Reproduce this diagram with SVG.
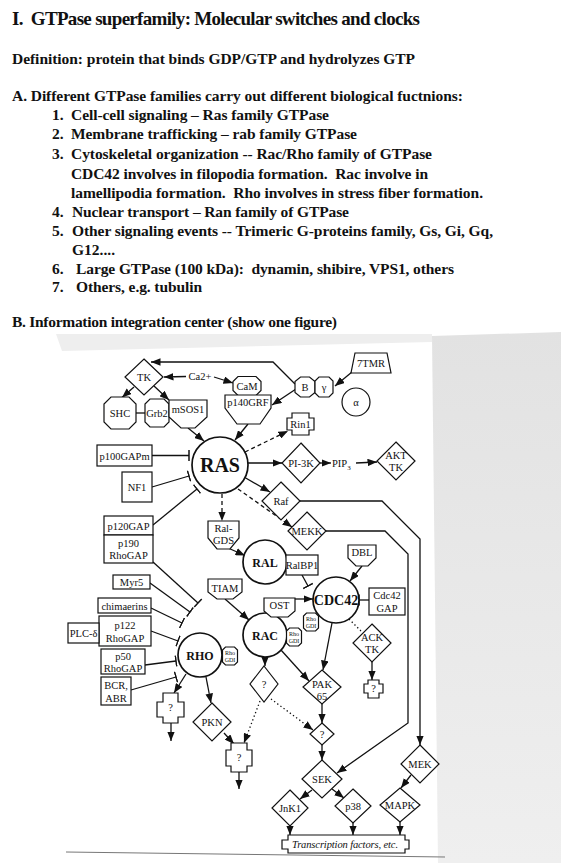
<svg xmlns="http://www.w3.org/2000/svg" width="561" height="863" viewBox="0 0 561 863">
  <defs>
    <style>
      .hd { font-family: "Liberation Serif", "Times New Roman", serif; font-weight: bold; fill: #111; white-space: pre; }
      .n { fill: #fff; stroke: #111; stroke-width: 1.2; }
      .cir { fill: #fff; stroke: #111; stroke-width: 1.7; }
      .c { fill: none; stroke: #111; stroke-width: 1.3; }
      .dash { stroke-dasharray: 4 3; }
      .dot { stroke-dasharray: 1.3 2.6; }
      .t { font-family: "Liberation Serif", "Times New Roman", serif; font-size: 10.5px; text-anchor: middle; fill: #111; }
      .tb { font-family: "Liberation Serif", "Times New Roman", serif; font-weight: bold; text-anchor: middle; fill: #111; }
      .gdi { font-family: "Liberation Serif", "Times New Roman", serif; font-size: 6px; text-anchor: middle; fill: #111; }
    </style>
    <marker id="ah" viewBox="0 0 10 8" refX="10" refY="4" markerWidth="9.5" markerHeight="7.6" markerUnits="userSpaceOnUse" orient="auto">
      <path d="M0,0 L10,4 L0,8 z" fill="#111"/>
    </marker>
    <marker id="bar" viewBox="-1 -6 2 12" refX="0" refY="0" markerWidth="2" markerHeight="12" markerUnits="userSpaceOnUse" orient="auto">
      <path d="M0,-5.5 V5.5" stroke="#111" stroke-width="1.5"/>
    </marker>
    <linearGradient id="shade" x1="0" y1="0" x2="0" y2="1">
      <stop offset="0" stop-color="#e2e2e2"/>
      <stop offset="1" stop-color="#efefef"/>
    </linearGradient>
  </defs>

  <!-- page -->
  <rect x="0" y="0" width="561" height="863" fill="#fff"/>
  <polygon points="56,334 432,334 432,342 62,351" fill="#eeeeee"/>
  <polygon points="432,336 561,332 561,863 438,863" fill="url(#shade)"/>
  <line x1="66" y1="852" x2="445" y2="857" stroke="#777" stroke-width="1"/>

  <!-- heading text -->
  <g id="notes">
    <text class="hd" xml:space="preserve" x="12" y="24.5" font-size="19" textLength="408" lengthAdjust="spacing">I.  GTPase superfamily: Molecular switches and clocks</text>
    <text class="hd" x="12" y="63.5" font-size="15.5" textLength="403" lengthAdjust="spacing">Definition: protein that binds GDP/GTP and hydrolyzes GTP</text>
    <text class="hd" x="12" y="100.5" font-size="15.5" textLength="451" lengthAdjust="spacing">A. Different GTPase families carry out different biological fuctnions:</text>
    <text class="hd" x="52" y="120" font-size="15.5">1.</text>
    <text class="hd" x="71" y="120" font-size="15.5" textLength="258" lengthAdjust="spacing">Cell-cell signaling – Ras family GTPase</text>
    <text class="hd" x="52" y="139.3" font-size="15.5">2.</text>
    <text class="hd" x="71" y="139.3" font-size="15.5" textLength="286" lengthAdjust="spacing">Membrane trafficking – rab family GTPase</text>
    <text class="hd" x="52" y="158.5" font-size="15.5">3.</text>
    <text class="hd" x="71" y="158.5" font-size="15.5" textLength="361" lengthAdjust="spacing">Cytoskeletal organization -- Rac/Rho family of GTPase</text>
    <text class="hd" xml:space="preserve" x="71" y="178.5" font-size="15.5" textLength="357" lengthAdjust="spacing">CDC42 involves in filopodia formation.  Rac involve in</text>
    <text class="hd" xml:space="preserve" x="71" y="197.5" font-size="15.5" textLength="412" lengthAdjust="spacing">lamellipodia formation.  Rho involves in stress fiber formation.</text>
    <text class="hd" x="52" y="216.8" font-size="15.5">4.</text>
    <text class="hd" x="72" y="216.8" font-size="15.5" textLength="277" lengthAdjust="spacing">Nuclear transport – Ran family of GTPase</text>
    <text class="hd" x="52" y="236" font-size="15.5">5.</text>
    <text class="hd" x="72" y="236" font-size="15.5" textLength="421" lengthAdjust="spacing">Other signaling events -- Trimeric G-proteins family, Gs, Gi, Gq,</text>
    <text class="hd" x="72" y="255" font-size="15.5">G12....</text>
    <text class="hd" x="52" y="273.5" font-size="15.5">6.</text>
    <text class="hd" xml:space="preserve" x="76" y="273.5" font-size="15.5" textLength="378" lengthAdjust="spacing">Large GTPase (100 kDa):  dynamin, shibire, VPS1, others</text>
    <text class="hd" x="52" y="292" font-size="15.5">7.</text>
    <text class="hd" x="76" y="292" font-size="15.5" textLength="126" lengthAdjust="spacing">Others, e.g. tubulin</text>
    <text class="hd" x="12" y="326.5" font-size="15.5" textLength="325" lengthAdjust="spacing">B. Information integration center (show one figure)</text>
  </g>

  <!-- connectors -->
  <g id="connectors">
    <path class="c" d="M186,376.5 L164,377" marker-end="url(#ah)"/>
    <path class="c" d="M214,377 L233,383" marker-end="url(#ah)"/>
    <path class="c" d="M295,384 L273,362 L151,362" marker-end="url(#ah)"/>
    <path class="c" d="M296,389 L272,405" marker-end="url(#ah)"/>
    <path class="c" d="M352,372 L335,386" marker-end="url(#ah)"/>
    <path class="c" d="M134,387 L122,397.5" marker-end="url(#ah)"/>
    <path class="c" d="M154,386 L169,400" marker-end="url(#ah)"/>
    <path class="c" d="M136,413 L145,413"/>
    <path class="c" d="M188,428 L204,441" marker-end="url(#ah)"/>
    <path class="c" d="M248,424 L235,440" marker-end="url(#ah)"/>
    <path class="c dash" d="M245,452 L288,431" marker-end="url(#ah)"/>
    <path class="c" d="M248,463 L282,463" marker-end="url(#ah)"/>
    <path class="c" d="M320,463 L331,463" marker-end="url(#ah)"/>
    <path class="c" d="M356,463 L377,462" marker-end="url(#ah)"/>
    <path class="c" d="M244,477 L270,492" marker-end="url(#ah)"/>
    <path class="c dash" d="M238,489 L292,527" marker-end="url(#ah)"/>
    <path class="c dash" d="M222,494 L222,521" marker-end="url(#ah)"/>
    <path class="c" d="M228,548 L245,555.5" marker-end="url(#ah)"/>
    <path class="c" d="M300,501 L382,501 L420,539 L420,745" marker-end="url(#ah)"/>
    <path class="c" d="M326,531 L385,531 L408,554 L408,723 L337,773" marker-end="url(#ah)"/>

    <path class="c" d="M152,455.5 L189,455.5" marker-end="url(#bar)"/>
    <path class="c" d="M152,487 L189,476" marker-end="url(#bar)"/>
    <path class="c" d="M153,525 L197,489" marker-end="url(#bar)"/>

    <path class="c" d="M153,562 L198,603" marker-end="url(#bar)"/>
    <path class="c" d="M150,583 L190,612" marker-end="url(#bar)"/>
    <path class="c" d="M151,608 L182,623" marker-end="url(#bar)"/>
    <path class="c" d="M151,631 L178,641" marker-end="url(#bar)"/>
    <path class="c" d="M145,665 L176,661" marker-end="url(#bar)"/>
    <path class="c" d="M131,690 L176,677" marker-end="url(#bar)"/>

    <path class="c" d="M225,599 L249,620" marker-end="url(#ah)"/>
    <path class="c" d="M295,599 L313,599" marker-end="url(#ah)"/>
    <path class="c" d="M302,575 L308,586" marker-end="url(#bar)"/>
    <path class="c" d="M362,566 L350,581" marker-end="url(#ah)"/>
    <path class="c" d="M369,600 L359,600" marker-end="url(#bar)"/>
    <path class="c" d="M332,623 L323,670" marker-end="url(#ah)"/>
    <path class="c" d="M281,650 L309,681" marker-end="url(#ah)"/>
    <path class="c dot" d="M349,619 L362,632"/>
    <path class="c" d="M372,662 L372,680" marker-end="url(#ah)"/>
    <path class="c" d="M265,657 L265,666" marker-end="url(#ah)"/>
    <path class="c" d="M186,674 L174,693" marker-end="url(#ah)"/>
    <path class="c" d="M206,677 L211,703" marker-end="url(#ah)"/>
    <path class="c" d="M171,723 L171,741" marker-end="url(#ah)"/>
    <path class="c" d="M224,733 L234,744" marker-end="url(#ah)"/>
    <path class="c dot" d="M260,701 L244,743" marker-end="url(#ah)"/>
    <path class="c dot" d="M271,699 L313,730" marker-end="url(#ah)"/>
    <path class="c" d="M239,772 L239,789" marker-end="url(#ah)"/>
    <path class="c" d="M322,704 L322,723" marker-end="url(#ah)"/>
    <path class="c" d="M322,745 L322,760" marker-end="url(#ah)"/>
    <path class="c" d="M312,790 L300,799" marker-end="url(#ah)"/>
    <path class="c" d="M332,789 L344,798" marker-end="url(#ah)"/>
    <path class="c" d="M411,775 L401,788" marker-end="url(#ah)"/>
    <path class="c" d="M290,826 L290,835" marker-end="url(#ah)"/>
    <path class="c" d="M353,823 L353,835" marker-end="url(#ah)"/>
    <path class="c" d="M400,822 L400,835" marker-end="url(#ah)"/>
  </g>

  <text class="t" x="200" y="380" font-size="10">Ca2+</text>

  <!-- receptors and adaptors -->
  <g id="TK"><polygon class="n" points="144,359 163,377 144,395 125,377"/><text class="t" x="144" y="381">TK</text></g>
  <g id="SHC"><polygon class="n" points="111,397 129,397 136,404 136,422 129,429 111,429 104,422 104,404"/><text class="t" x="120" y="417">SHC</text></g>
  <g id="Grb2"><polygon class="n" points="150,399 164,399 169,404 169,422 164,427 150,427 145,422 145,404"/><text class="t" x="157" y="417" font-size="10">Grb2</text></g>
  <g id="mSOS1"><polygon class="n" points="169,400 207,400 207,417 195,428 181,428 169,417"/><text class="t" x="188" y="413">mSOS1</text></g>
  <g id="CaM"><polygon class="n" points="238,376.5 256,376.5 261,381.5 261,390.5 256,395.5 238,395.5 233,390.5 233,381.5"/><text class="t" x="247" y="390">CaM</text></g>
  <g id="p140GRF"><polygon class="n" points="225,395 271,395 271,408 260,424 237,424 225,408"/><text class="t" x="248" y="406">p140GRF</text></g>
  <g id="Gbeta"><polygon class="n" points="300.5,377 309.5,377 315,381.5 315,392.5 309.5,397 300.5,397 295,392.5 295,381.5"/><text class="t" x="305" y="391">B</text></g>
  <g id="Ggamma"><polygon class="n" points="319,377 329,377 333,381 333,393 329,397 319,397 315,393 315,381"/><text class="t" x="324" y="391" font-size="11">γ</text></g>
  <g id="TMR7"><polygon class="n" points="355,353 387,353 391,373 351,373"/><text class="t" x="371" y="367">7TMR</text></g>
  <g id="Galpha"><circle class="n" cx="356" cy="402" r="14"/><text class="t" x="356" y="405.5" font-size="11">α</text></g>
  <g id="Rin1"><polygon class="n" points="292,413 309,413 309,418 314,418 314,430 309,430 309,435 292,435 292,430 287,430 287,418 292,418"/><text class="t" x="300.5" y="428" font-size="10">Rin1</text></g>

  <!-- RAS and its regulators -->
  <g id="RAS"><circle class="cir" cx="220" cy="465" r="28" stroke-width="2"/><text class="tb" x="220" y="472" font-size="20">RAS</text></g>
  <g id="p100GAPm"><rect class="n" x="97" y="445" width="55" height="21"/><text class="t" x="124.5" y="459.5">p100GAPm</text></g>
  <g id="NF1"><rect class="n" x="122" y="472" width="30" height="30"/><text class="t" x="137" y="491">NF1</text></g>
  <g id="p120GAP"><rect class="n" x="104" y="516" width="49" height="19"/><text class="t" x="128.5" y="529.5">p120GAP</text></g>
  <g id="p190RhoGAP"><rect class="n" x="104" y="535" width="49" height="28"/><text class="t" x="128.5" y="546.5">p190</text><text class="t" x="128.5" y="558.5">RhoGAP</text></g>
  <g id="PI3K"><polygon class="n" points="301,443 320,463 301,483 282,463"/><text class="t" x="301" y="467">PI-3K</text></g>
  <g id="PIP3"><text class="t" x="332" y="467" style="text-anchor:start">PIP<tspan font-size="7" dy="2.5">3</tspan></text></g>
  <g id="AKT"><polygon class="n" points="396,442 415,461 396,480 377,461"/><text class="t" x="396" y="459">AKT</text><text class="t" x="396" y="471">TK</text></g>
  <g id="Raf"><polygon class="n" points="281,482 300,501 281,520 262,501"/><text class="t" x="281" y="505">Raf</text></g>
  <g id="MEKK"><polygon class="n" points="307,512 326,531 307,550 288,531"/><text class="t" x="307" y="535" font-size="10">MEKK</text></g>

  <!-- RAL, RAC, CDC42, RHO -->
  <g id="RalGDS"><polygon class="n" points="208,521 239,521 239,538 230,549 217,549 208,538"/><text class="t" x="223.5" y="532">Ral-</text><text class="t" x="223.5" y="544">GDS</text></g>
  <g id="RAL"><circle class="cir" cx="265" cy="562" r="22"/><text class="tb" x="265" y="566.5" font-size="12">RAL</text></g>
  <g id="RalBP1"><rect class="n" x="286" y="555" width="32" height="20"/><text class="t" x="302" y="569" font-size="10">RalBP1</text></g>
  <g id="DBL"><polygon class="n" points="348,545 376,545 376,558 368,566 356,566 348,558"/><text class="t" x="362" y="556">DBL</text></g>
  <g id="TIAM"><polygon class="n" points="208,579 242,579 242,592 233,599 217,599 208,592"/><text class="t" x="225" y="592">TIAM</text></g>
  <g id="RAC"><circle class="cir" cx="265" cy="635" r="22"/><text class="tb" x="265" y="639.5" font-size="12">RAC</text></g>
  <g id="OST"><polygon class="n" points="264,598 295,598 295,611 288,617 271,617 264,611"/><text class="t" x="279.5" y="609">OST</text></g>
  <g id="CDC42"><circle class="cir" cx="336" cy="600" r="23"/><text class="tb" x="336" y="605" font-size="14">CDC42</text></g>
  <g id="Cdc42GAP"><rect class="n" x="369" y="588" width="36" height="27"/><text class="t" x="387" y="599">Cdc42</text><text class="t" x="387" y="611.5">GAP</text></g>
  <g id="RhoGDI-RAC"><polygon class="n" points="289.5,628 298.5,628 301.5,631 301.5,643 298.5,646 289.5,646 286.5,643 286.5,631"/><text class="gdi" x="294" y="636">Rho</text><text class="gdi" x="294" y="642.5">GDI</text></g>
  <g id="RhoGDI-CDC42"><polygon class="n" points="306.5,613 315.5,613 318.5,616 318.5,628 315.5,631 306.5,631 303.5,628 303.5,616"/><text class="gdi" x="311" y="621">Rho</text><text class="gdi" x="311" y="627.5">GDI</text></g>
  <g id="Myr5"><rect class="n" x="113" y="575" width="37" height="14"/><text class="t" x="131.5" y="586">Myr5</text></g>
  <g id="chimaerins"><rect class="n" x="98" y="598" width="53" height="15"/><text class="t" x="124.5" y="609.5">chimaerins</text></g>
  <g id="p122RhoGAP"><rect class="n" x="99" y="616" width="52" height="30"/><text class="t" x="125" y="629">p122</text><text class="t" x="125" y="642">RhoGAP</text></g>
  <g id="PLCd"><rect class="n" x="68" y="623" width="31" height="20"/><text class="t" x="83.5" y="637">PLC-δ</text></g>
  <g id="p50RhoGAP"><rect class="n" x="101" y="649" width="44" height="25"/><text class="t" x="123" y="660">p50</text><text class="t" x="123" y="671.5">RhoGAP</text></g>
  <g id="BCRABR"><rect class="n" x="101" y="677" width="30" height="28"/><text class="t" x="116" y="689">BCR,</text><text class="t" x="116" y="702">ABR</text></g>
  <g id="RHO"><circle class="cir" cx="200" cy="655" r="22"/><text class="tb" x="200" y="659.5" font-size="12">RHO</text></g>
  <g id="RhoGDI-RHO"><polygon class="n" points="225.5,647 234.5,647 237.5,650 237.5,662 234.5,665 225.5,665 222.5,662 222.5,650"/><text class="gdi" x="230" y="655">Rho</text><text class="gdi" x="230" y="661.5">GDI</text></g>

  <!-- effectors -->
  <g id="ACKTK"><polygon class="n" points="372,624 391,643 372,662 353,643"/><text class="t" x="372" y="641">ACK</text><text class="t" x="372" y="653">TK</text></g>
  <g id="ACK-target"><polygon class="n" points="368,680 379,680 379,684 383,684 383,693 379,693 379,698 368,698 368,693 364,693 364,684 368,684"/><text class="t" x="373.5" y="692" font-size="8.5">?</text></g>
  <g id="RAC-target"><polygon class="n" points="264,666 278,684 264,702 250,684"/><text class="t" x="264" y="688" font-size="9.5">?</text></g>
  <g id="PAK65"><polygon class="n" points="322,670 341,687 322,704 303,687"/><text class="t" x="322" y="688">PAK</text><text class="t" x="322" y="700">65</text></g>
  <g id="RHO-target"><polygon class="n" points="163,693 178,693 178,702 184,702 184,717 178,717 178,723 163,723 163,717 157,717 157,702 163,702"/><text class="t" x="170.5" y="711" font-size="9">?</text></g>
  <g id="PKN"><polygon class="n" points="212,703 231,722 212,741 193,722"/><text class="t" x="212" y="726">PKN</text></g>
  <g id="PKN-target"><polygon class="n" points="231,743 247,743 247,750 252,750 252,766 247,766 247,772 231,772 231,766 226,766 226,750 231,750"/><text class="t" x="239" y="761" font-size="9">?</text></g>
  <g id="SEK-kinase"><polygon class="n" points="322,723 334,734 322,745 310,734"/><text class="t" x="322" y="737.5" font-size="8.5">?</text></g>
  <g id="SEK"><polygon class="n" points="322,760 342,779 322,798 302,779"/><text class="t" x="322" y="783" font-size="11">SEK</text></g>
  <g id="MEK"><polygon class="n" points="420,745 439,764 420,783 401,764"/><text class="t" x="420" y="768">MEK</text></g>
  <g id="JnK1"><polygon class="n" points="290,790 308,808 290,826 272,808"/><text class="t" x="290" y="812" font-size="10">JnK1</text></g>
  <g id="p38"><polygon class="n" points="353,789 371,806 353,823 335,806"/><text class="t" x="353" y="810">p38</text></g>
  <g id="MAPK"><polygon class="n" points="400,788 420,805 400,822 380,805"/><text class="t" x="400" y="809" font-size="10">MAPK</text></g>
  <g id="TF"><path class="n" d="M288,835 H405 V840 H409 V849 H405 V853 H288 V849 H282 V840 H288 Z"/><text class="t" x="345" y="848" font-style="italic" textLength="106" lengthAdjust="spacing">Transcription factors, etc.</text></g>
</svg>
